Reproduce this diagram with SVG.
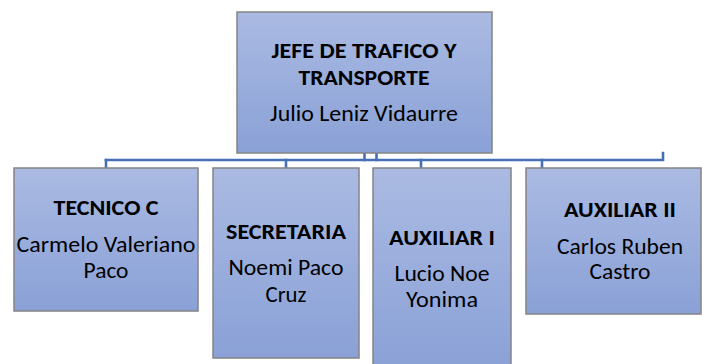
<svg xmlns="http://www.w3.org/2000/svg" width="702" height="364" viewBox="0 0 702 364">
  <defs>
    <linearGradient id="boxFill" x1="0" y1="0" x2="0" y2="1">
      <stop offset="0" stop-color="#aabae2"/>
      <stop offset="1" stop-color="#8aa1d7"/>
    </linearGradient>
    <style>
      .box { fill: url(#boxFill); stroke: #848484; stroke-width: 1.5; }
      .conn { fill: none; stroke: #4670b6; stroke-width: 2.6; stroke-linecap: square; }
      .t { font-family: Carlito, Lato, "Open Sans", sans-serif; font-size: 22px; fill: #000; text-anchor: middle; }
      .b { font-weight: bold; }
    </style>
  </defs>
  <rect width="702" height="364" fill="#ffffff"/>

  <g id="connectors">
    <path class="conn" d="M106 160 H663 V153"/>
    <path class="conn" d="M364.5 153 V160 M376.5 153 V160"/>
    <path class="conn" d="M106 160 V167 M286 160 V167 M421 160 V167 M542 160 V167"/>
  </g>

  <g id="node-jefe">
    <rect class="box" x="237" y="12" width="255" height="141"/>
    <text class="t b" x="364" y="58" textLength="185" lengthAdjust="spacingAndGlyphs">JEFE DE TRAFICO Y</text>
    <text class="t b" x="364" y="85" textLength="131" lengthAdjust="spacingAndGlyphs">TRANSPORTE</text>
    <text class="t" x="364" y="121" textLength="188" lengthAdjust="spacingAndGlyphs">Julio Leniz Vidaurre</text>
  </g>

  <g id="node-tecnico">
    <rect class="box" x="14" y="168" width="184" height="143"/>
    <text class="t b" x="106" y="215" textLength="105" lengthAdjust="spacingAndGlyphs">TECNICO C</text>
    <text class="t" x="106" y="252" textLength="179" lengthAdjust="spacingAndGlyphs">Carmelo Valeriano</text>
    <text class="t" x="106" y="278" textLength="45" lengthAdjust="spacingAndGlyphs">Paco</text>
  </g>

  <g id="node-secretaria">
    <rect class="box" x="213" y="168" width="146" height="190"/>
    <text class="t b" x="286" y="239" textLength="120" lengthAdjust="spacingAndGlyphs">SECRETARIA</text>
    <text class="t" x="286" y="275" textLength="115" lengthAdjust="spacingAndGlyphs">Noemi Paco</text>
    <text class="t" x="286" y="302" textLength="41" lengthAdjust="spacingAndGlyphs">Cruz</text>
  </g>

  <g id="node-auxiliar1">
    <rect class="box" x="373" y="168" width="138" height="204"/>
    <text class="t b" x="442" y="245" textLength="106" lengthAdjust="spacingAndGlyphs">AUXILIAR I</text>
    <text class="t" x="442" y="281" textLength="95" lengthAdjust="spacingAndGlyphs">Lucio Noe</text>
    <text class="t" x="442" y="307" textLength="72" lengthAdjust="spacingAndGlyphs">Yonima</text>
  </g>

  <g id="node-auxiliar2">
    <rect class="box" x="526" y="168" width="175" height="146"/>
    <text class="t b" x="620" y="217" textLength="112" lengthAdjust="spacingAndGlyphs">AUXILIAR II</text>
    <text class="t" x="620" y="254" textLength="126" lengthAdjust="spacingAndGlyphs">Carlos Ruben</text>
    <text class="t" x="620" y="279" textLength="61" lengthAdjust="spacingAndGlyphs">Castro</text>
  </g>
</svg>
